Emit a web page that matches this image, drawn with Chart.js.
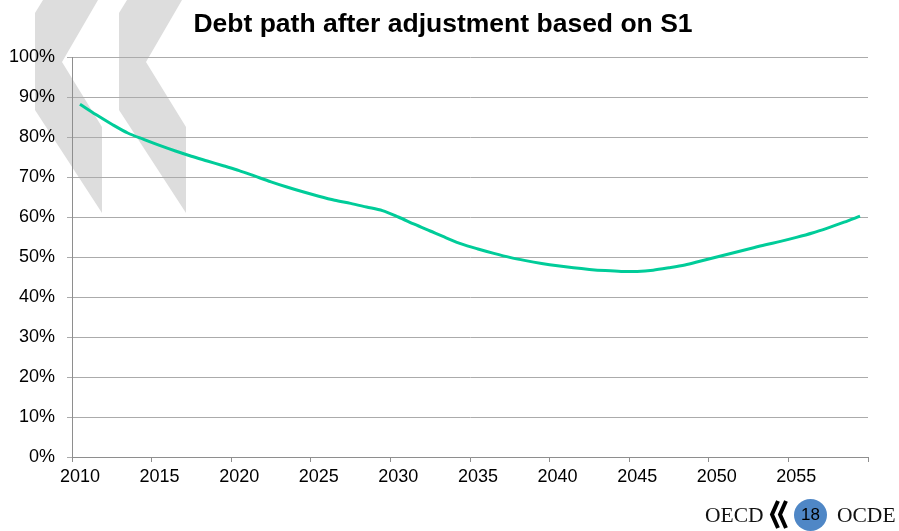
<!DOCTYPE html>
<html>
<head>
<meta charset="utf-8">
<title>Debt path after adjustment based on S1</title>
<script src="https://cdn.jsdelivr.net/npm/chart.js@4.4.1/dist/chart.umd.min.js"></script>
<style>
  html, body { margin: 0; padding: 0; background: #fff; }
  #slide { position: relative; width: 899px; height: 531px; overflow: hidden;
           font-family: "Liberation Sans", Arial, sans-serif; }
  #bg { position: absolute; left: 0; top: 0; }
  #debtChart { position: absolute; left: 0; top: 0; }
  #title { position: absolute; left: 0; top: 10px; width: 886px; text-align: center;
           font-weight: bold; font-size: 26.5px; line-height: 26.5px; color: #000; }
  .brand { position: absolute; top: 505px; font-family: "Liberation Serif", "DejaVu Serif", serif;
           font-size: 21.5px; line-height: 21.5px; color: #111; }
  #page { position: absolute; left: 794px; top: 499px; width: 33px; height: 32px; border-radius: 50%;
          background: #4f87c6; color: #000; font-size: 17px; display: flex;
          align-items: center; justify-content: center; }
</style>
</head>
<body>
<div id="slide">
  <!-- grey chevrons behind the plot -->
  <svg id="bg" width="899" height="531">
    <polygon fill="#dddddd" points="43,0 98,0 62,62 102,127 102,213 35,110 35,13"/>
    <polygon fill="#dddddd" points="127,0 182,0 146,62 186,127 186,213 119,110 119,13"/>
    <path d="M778 501 L772 514.5 L778 528" fill="none" stroke="#000" stroke-width="4"/>
    <path d="M786 501 L780 514.5 L786 528" fill="none" stroke="#000" stroke-width="4"/>
  </svg>
  <canvas id="debtChart" width="899" height="531"></canvas>
  <div id="title">Debt path after adjustment based on S1</div>
  <div class="brand" style="left:705px">OECD</div>
  <div id="page">18</div>
  <div class="brand" style="left:837px">OCDE</div>
</div>
<script>
// years on the category axis
var years = [
  2010, 2011, 2012, 2013, 2014, 2015, 2016, 2017, 2018, 2019,
  2020, 2021, 2022, 2023, 2024, 2025, 2026, 2027, 2028, 2029,
  2030, 2031, 2032, 2033, 2034, 2035, 2036, 2037, 2038, 2039,
  2040, 2041, 2042, 2043, 2044, 2045, 2046, 2047, 2048, 2049,
  2050, 2051, 2052, 2053, 2054, 2055, 2056, 2057, 2058, 2059
];

// debt, % of GDP
var debtRatio = [
  88.2, 85.6, 83.2, 81.0, 79.4, 77.9, 76.5, 75.2, 74.0, 72.8,
  71.6, 70.2, 68.8, 67.5, 66.3, 65.2, 64.2, 63.4, 62.5, 61.6,
  60.0, 58.2, 56.5, 54.8, 53.2, 52.0, 50.9, 49.9, 49.1, 48.4,
  47.8, 47.3, 46.9, 46.6, 46.4, 46.4, 46.7, 47.3, 48.0, 49.0,
  50.0, 51.0, 52.0, 53.0, 53.9, 54.9, 56.0, 57.3, 58.7, 60.2
];

var yTicks = [0, 10, 20, 30, 40, 50, 60, 70, 80, 90, 100];
var labelEvery = 5;

var gridGrey = "#ababab";
var axisGrey = "#8e8e8e";

new Chart(document.getElementById("debtChart"), {
  type: "line",
  data: {
    labels: years,
    datasets: [{
      data: debtRatio,
      borderColor: "#00cc99",
      borderWidth: 3,
      pointRadius: 0,
      tension: 0.3,
      fill: false
    }]
  },
  options: {
    responsive: false,
    animation: false,
    events: [],
    layout: { padding: { top: 57, left: 0, right: 31, bottom: 34 } },
    plugins: {
      legend: { display: false },
      title: { display: false },
      tooltip: { enabled: false }
    },
    scales: {
      x: {
        type: "category",
        offset: true,
        grid: {
          offset: true,
          drawOnChartArea: false,
          tickLength: 5,
          tickWidth: 1,
          tickColor: function (ctx) {
            return (ctx.index === undefined || ctx.index % labelEvery === 0) ? axisGrey : "rgba(0,0,0,0)";
          }
        },
        border: { color: axisGrey, width: 1 },
        ticks: {
          autoSkip: false,
          maxRotation: 0,
          minRotation: 0,
          padding: 4,
          color: "#000",
          font: { family: "'Liberation Sans', Arial, sans-serif", size: 18 },
          callback: function (value, index) {
            return index % labelEvery === 0 ? String(years[index]) : "";
          }
        },
        afterFit: function (scale) { scale.height = 40; }
      },
      y: {
        min: 0,
        max: 100,
        afterBuildTicks: function (scale) {
          scale.ticks = yTicks.map(function (v) { return { value: v }; });
        },
        grid: { color: gridGrey, lineWidth: 1, tickLength: 5, tickColor: gridGrey },
        border: { color: axisGrey, width: 1 },
        ticks: {
          padding: 12,
          color: "#000",
          font: { family: "'Liberation Sans', Arial, sans-serif", size: 18 },
          callback: function (v) { return v + "%"; }
        },
        afterFit: function (scale) { scale.width = 72; }
      }
    }
  }
});
</script>
</body>
</html>
